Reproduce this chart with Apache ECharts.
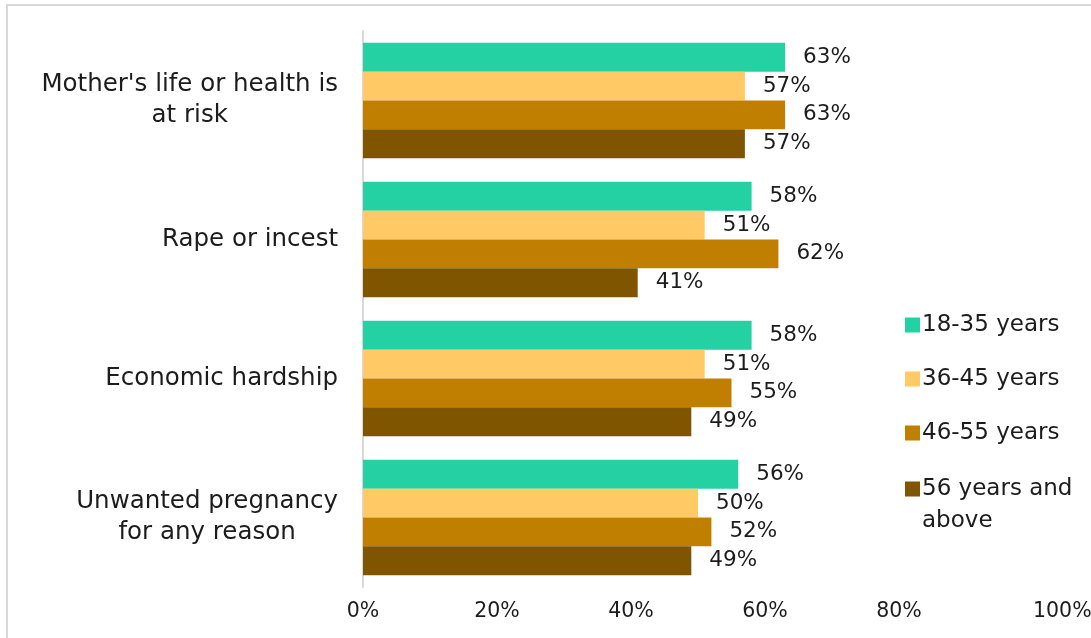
<!DOCTYPE html>
<html>
<head>
<meta charset="utf-8">
<script src="https://cdn.jsdelivr.net/npm/echarts@6/dist/echarts.min.js"></script>
<style>
  html, body { margin: 0; padding: 0; background: #ffffff; }
  #chart { width: 1091px; height: 638px; }
</style>
</head>
<body>
<div id="chart"></div>
<script>
// Reasons considered acceptable, by age group (share of respondents)
const categories = [
  "Mother's life or health is\nat risk",
  "Rape or incest",
  "Economic hardship",
  "Unwanted pregnancy\nfor any reason"
];
const seriesNames = ["18-35 years", "36-45 years", "46-55 years", "56 years and above"];
const age18to35 = [63, 58, 58, 56];
const age36to45 = [57, 51, 51, 50];
const age46to55 = [63, 62, 55, 52];
const age56plus = [57, 41, 49, 49];
const colors = ["#24D1A2", "#FFCA66", "#C07F00", "#7F5500"];
const axisTicks = [0, 20, 40, 60, 80, 100];

const FONT = "DejaVu Sans";
const TEXT = "#1c1c1c";

const values = [age18to35, age36to45, age46to55, age56plus];

const chart = echarts.init(document.getElementById('chart'), null, { renderer: 'canvas' });

const series = seriesNames.map((name, i) => ({
  name: name,
  type: 'bar',
  data: values[i],
  barGap: '0%',
  barCategoryGap: '17%',
  itemStyle: { color: colors[i] },
  label: {
    show: true,
    position: 'right',
    distance: 18,
    formatter: p => p.value + '%',
    fontFamily: FONT,
    fontSize: 21.5,
    color: TEXT
  },
  emphasis: { disabled: true }
}));

chart.setOption({
  animation: false,
  backgroundColor: '#ffffff',
  graphic: [{
    type: 'rect',
    shape: { x: 7, y: 5, width: 1200, height: 1000 },
    style: { fill: 'none', stroke: '#d9d9d9', lineWidth: 2 },
    silent: true
  }],
  grid: { left: 363, right: 58, top: 31, bottom: 51, containLabel: false, outerBoundsMode: 'none' },
  xAxis: {
    type: 'value',
    min: 0,
    max: 100,
    interval: 20,
    axisLine: { show: false },
    axisTick: { show: false },
    splitLine: { show: false },
    axisLabel: {
      margin: 14,
      fontFamily: FONT,
      fontSize: 20.5,
      color: TEXT,
      alignMaxLabel: 'left',
      formatter: v => axisTicks.includes(v) ? v + '%' : ''
    }
  },
  yAxis: {
    type: 'category',
    data: categories,
    inverse: true,
    axisLine: { show: true, lineStyle: { color: '#d9d9d9', width: 2 } },
    axisTick: { show: false },
    axisLabel: {
      margin: 25,
      fontFamily: FONT,
      fontSize: 24.5,
      color: TEXT,
      lineHeight: 31,
      formatter: v => v.split('\n').map(l => '{c|' + l + '}').join('\n'),
      rich: {
        c: { align: 'center', fontFamily: FONT, fontSize: 24.5, lineHeight: 31, color: TEXT }
      }
    }
  },
  legend: [{
    data: seriesNames.slice(0, 3),
    orient: 'vertical',
    left: 900,
    top: 304,
    itemWidth: 15,
    itemHeight: 15,
    itemGap: 22,
    icon: 'rect',
    selectedMode: false,
    textStyle: { fontFamily: FONT, fontSize: 23, color: TEXT, lineHeight: 32, padding: [0, 0, 0, -3] }
  }, {
    data: seriesNames.slice(3),
    orient: 'vertical',
    left: 900,
    top: 436,
    itemWidth: 15,
    itemHeight: 15,
    icon: 'rect',
    selectedMode: false,
    formatter: n => '\n' + n.replace('and above', 'and\nabove'),
    textStyle: { fontFamily: FONT, fontSize: 23, color: TEXT, lineHeight: 32, padding: [0, 0, 0, -3] }
  }],
  series: series
});
</script>
</body>
</html>
